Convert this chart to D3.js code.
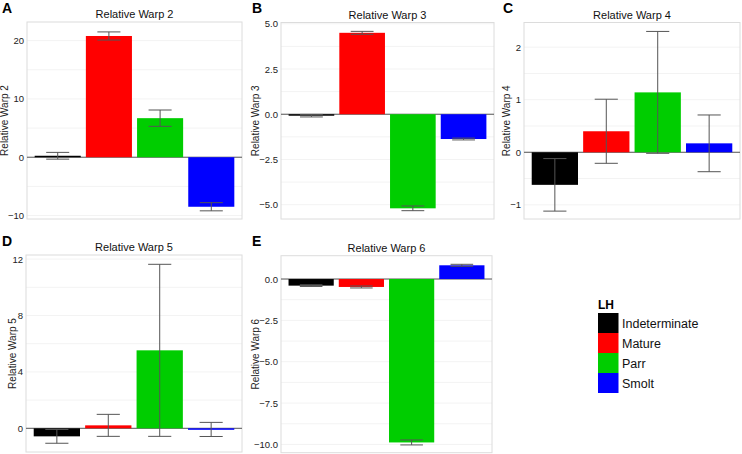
<!DOCTYPE html>
<html>
<head>
<meta charset="utf-8">
<script src="https://cdn.jsdelivr.net/npm/d3@7/dist/d3.min.js"></script>
<style>
  html, body { margin: 0; padding: 0; background: #fff; }
  svg { display: block; font-family: "Liberation Sans", Arial, sans-serif; }
</style>
</head>
<body>
<svg id="chart" width="742" height="454"></svg>
<script>
// ---- data ----
const categories = ["Indeterminate", "Mature", "Parr", "Smolt"];
const colors = ["#000000", "#ff0000", "#00cd00", "#0000ff"];

const warp2Mean = [0.25, 20.8, 6.7, -8.5];
const warp2Err  = [0.58, 0.7, 1.4, 0.7];
const warp2Ticks = [-10, 0, 10, 20];

const warp3Mean = [-0.08, 4.5, -5.2, -1.37];
const warp3Err  = [0.07, 0.08, 0.13, 0.05];
const warp3Ticks = [-5, -2.5, 0, 2.5, 5];

const warp4Mean = [-0.62, 0.40, 1.14, 0.17];
const warp4Err  = [0.50, 0.61, 1.16, 0.54];
const warp4Ticks = [-1, 0, 1, 2];

const warp5Mean = [-0.57, 0.21, 5.53, -0.08];
const warp5Err  = [0.49, 0.78, 6.1, 0.5];
const warp5Ticks = [0, 4, 8, 12];

const warp6Mean = [-0.40, -0.48, -9.88, 0.83];
const warp6Err  = [0.05, 0.06, 0.15, 0.06];
const warp6Ticks = [-10, -7.5, -5, -2.5, 0];

const panels = [
  { letter: "A", title: "Relative Warp 2", mean: warp2Mean, err: warp2Err, ticks: warp2Ticks, fmt: "d",
    domain: [-10.6, 23.2], x0: 27, x1: 242, y0: 22, y1: 219, lx: 2, ly: 13, labX: 8 },
  { letter: "B", title: "Relative Warp 3", mean: warp3Mean, err: warp3Err, ticks: warp3Ticks, fmt: ".1f",
    domain: [-5.79, 5.07], x0: 281, x1: 494, y0: 22.5, y1: 219, lx: 252, ly: 13, labX: 259 },
  { letter: "C", title: "Relative Warp 4", mean: warp4Mean, err: warp4Err, ticks: warp4Ticks, fmt: "d",
    domain: [-1.27, 2.47], x0: 524, x1: 740, y0: 22.5, y1: 219, lx: 503, ly: 13, labX: 510 },
  { letter: "D", title: "Relative Warp 5", mean: warp5Mean, err: warp5Err, ticks: warp5Ticks, fmt: "d",
    domain: [-1.68, 12.29], x0: 26, x1: 242, y0: 255, y1: 452, lx: 2, ly: 246, labX: 16 },
  { letter: "E", title: "Relative Warp 6", mean: warp6Mean, err: warp6Err, ticks: warp6Ticks, fmt: ".1f",
    domain: [-10.5, 1.41], x0: 281, x1: 492, y0: 255.7, y1: 452.7, lx: 252, ly: 246, labX: 259 }
];

const svg = d3.select("#chart");

panels.forEach(p => {
  const g = svg.append("g");
  const x = d3.scaleBand().domain(categories).range([p.x0, p.x1]).paddingInner(0.1).paddingOuter(0.15);
  const y = d3.scaleLinear().domain(p.domain).range([p.y1, p.y0]);

  g.append("rect").attr("x", p.x0).attr("y", p.y0).attr("width", p.x1 - p.x0).attr("height", p.y1 - p.y0)
    .attr("fill", "#fff");

  // faint grid
  const minor = [];
  for (let i = 0; i < p.ticks.length - 1; i++) minor.push((p.ticks[i] + p.ticks[i + 1]) / 2);
  g.selectAll(".grid").data(p.ticks.concat(minor).filter(v => v >= p.domain[0] && v <= p.domain[1]))
    .enter().append("line")
    .attr("x1", p.x0).attr("x2", p.x1).attr("y1", d => y(d)).attr("y2", d => y(d))
    .attr("stroke", "#f3f3f3").attr("stroke-width", 1);

  // border
  g.append("rect").attr("x", p.x0).attr("y", p.y0).attr("width", p.x1 - p.x0).attr("height", p.y1 - p.y0)
    .attr("fill", "none").attr("stroke", "#dcdcdc").attr("stroke-width", 1);

  // zero line
  g.append("line").attr("x1", p.x0).attr("x2", p.x1).attr("y1", y(0)).attr("y2", y(0))
    .attr("stroke", "#555").attr("stroke-width", 1);

  // bars
  g.selectAll(".bar").data(categories).enter().append("rect")
    .attr("x", d => x(d))
    .attr("width", x.bandwidth())
    .attr("y", (d, i) => y(Math.max(0, p.mean[i])))
    .attr("height", (d, i) => Math.max(1.5, Math.abs(y(p.mean[i]) - y(0))))
    .attr("fill", (d, i) => colors[i]);

  // error bars
  const capW = x.step() * 0.45;
  categories.forEach((c, i) => {
    const cx = x(c) + x.bandwidth() / 2;
    const lo = y(p.mean[i] - p.err[i]), hi = y(p.mean[i] + p.err[i]);
    g.append("line").attr("x1", cx).attr("x2", cx).attr("y1", lo).attr("y2", hi)
      .attr("stroke", "#555").attr("stroke-width", 1);
    [lo, hi].forEach(yy => g.append("line").attr("x1", cx - capW / 2).attr("x2", cx + capW / 2)
      .attr("y1", yy).attr("y2", yy).attr("stroke", "#555").attr("stroke-width", 1));
  });

  // y axis (labels only)
  const axis = d3.axisLeft(y).tickValues(p.ticks).tickFormat(d3.format(p.fmt)).tickSize(0).tickPadding(3);
  const ag = g.append("g").attr("transform", `translate(${p.x0},0)`).call(axis);
  ag.select(".domain").remove();
  ag.selectAll("text").attr("font-size", 9.5).attr("fill", "#222")
    .attr("font-family", "Liberation Sans, Arial, sans-serif");

  // title
  g.append("text").attr("x", (p.x0 + p.x1) / 2).attr("y", p.y0 - 4).attr("text-anchor", "middle")
    .attr("font-size", 11).attr("fill", "#111").text(p.title);

  // y label
  g.append("text").attr("transform", `translate(${p.labX},${(p.y0 + p.y1) / 2}) rotate(-90)`)
    .attr("text-anchor", "middle").attr("font-size", 10).attr("fill", "#222").text(p.title);

  // panel letter
  g.append("text").attr("x", p.lx).attr("y", p.ly).attr("font-size", 14).attr("font-weight", "bold")
    .attr("fill", "#000").text(p.letter);
});

// legend
const lg = svg.append("g");
lg.append("text").attr("x", 598).attr("y", 309).attr("font-size", 12).attr("font-weight", "bold").text("LH");
const legY = d3.scaleBand().domain(categories).range([313, 393]);
lg.selectAll(".key").data(categories).enter().append("rect")
  .attr("x", 598).attr("y", d => legY(d)).attr("width", 20.5).attr("height", legY.bandwidth())
  .attr("fill", (d, i) => colors[i]);
lg.selectAll(".lab").data(categories).enter().append("text")
  .attr("x", 622).attr("y", d => legY(d) + legY.bandwidth() / 2 + 4.5)
  .attr("font-size", 12.5).attr("fill", "#111").text(d => d);
</script>
</body>
</html>
